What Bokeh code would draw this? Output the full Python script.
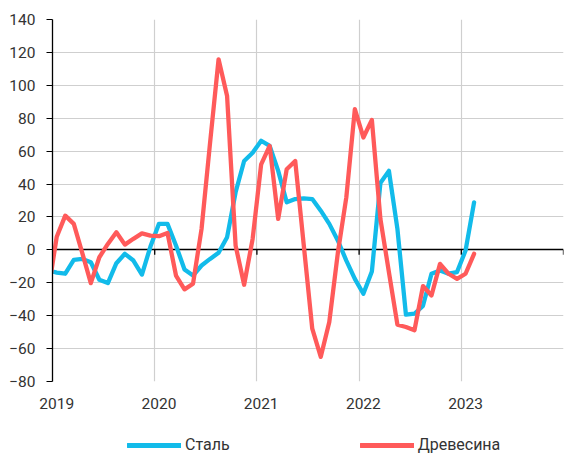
import numpy as np
from bokeh.plotting import figure
from bokeh.layouts import column
from bokeh.models import Range1d, FixedTicker, Legend, LegendItem, ColumnDataSource
from bokeh.embed import file_html
from bokeh.resources import INLINE

# Monthly series, first value = Dec 2018 (clipped at the axis start), last = Feb 2023
first_year, first_month = 2018, 12
steel = [-12.5, -13.8, -14.5, -6.1, -5.5, -7.5, -18.2, -20.2, -8.1, -2.4, -6.5, -15.0, 2.0,
         15.8, 15.8, 2.6, -11.9, -15.6, -9.5, -5.5, -1.8, 7.7, 35.0, 54.0, 59.0,
         66.3, 63.2, 48.0, 28.9, 30.9, 31.3, 30.9, 23.8, 15.8, 5.7, -6.5, -17.6,
         -26.7, -13.1, 40.6, 48.0, 12.7, -39.4, -38.8, -34.0, -14.5, -12.5, -14.5, -13.5,
         -0.4, 28.9]
wood = [-25.0, 8.0, 20.8, 15.8, -2.0, -20.2, -4.5, 3.6, 10.7, 3.2, 6.7, 10.0, 8.7,
        8.3, 10.3, -15.6, -24.0, -20.6, 12.7, 65.0, 115.8, 93.5, 2.6, -21.2, 6.7,
        52.0, 63.2, 18.8, 49.0, 54.0, 3.0, -47.9, -65.0, -43.8, -2.0, 32.0, 85.5,
        68.3, 79.0, 18.8, -13.5, -45.5, -46.9, -48.9, -22.0, -27.7, -8.5, -14.5, -17.6,
        -14.5, -2.4]
series_names = ["Сталь", "Древесина"]
series_colors = ["#12BBEA", "#FF5A5A"]
year_ticks = [2019, 2020, 2021, 2022, 2023, 2024]
year_labels = ["2019", "2020", "2021", "2022", "2023"]
y_ticks = list(range(-80, 141, 20))

# months placed at mid-month on a fractional-year axis
n = len(steel)
x = first_year + (first_month - 0.5) / 12 + np.arange(n) / 12.0
src = ColumnDataSource(dict(x=x, steel=steel, wood=wood))

FONT = "Roboto"
TXT = "#333333"
GRID = "#cfcfcf"
LW = 4.3

p = figure(width=565, height=414, output_backend="svg", toolbar_location=None,
           x_range=Range1d(2019, 2024), y_range=Range1d(-80, 140),
           min_border_left=52, min_border_top=19, min_border_right=2, min_border_bottom=33)
p.outline_line_color = None
p.background_fill_color = "white"
p.border_fill_color = "white"

# grids
p.xgrid.ticker = FixedTicker(ticks=year_ticks)
p.xgrid.grid_line_color = GRID
p.xgrid.grid_line_width = 1.2
p.ygrid.grid_line_color = GRID
p.ygrid.grid_line_width = 1.2

# y axis
p.yaxis.ticker = FixedTicker(ticks=y_ticks)
p.yaxis.axis_line_color = "black"
p.yaxis.axis_line_width = 1.3
p.yaxis.major_tick_line_color = "black"
p.yaxis.major_tick_out = 6
p.yaxis.major_tick_in = 0
p.yaxis.minor_tick_line_color = None
p.yaxis.major_label_standoff = 11
p.yaxis.major_label_text_font = FONT
p.yaxis.major_label_text_font_size = "15.5px"
p.yaxis.major_label_text_color = TXT

# x axis: labels at mid-January of each year
label_pos = [int(l) + 0.5 / 12 for l in year_labels]
p.xaxis.ticker = FixedTicker(ticks=label_pos)
p.xaxis.major_label_overrides = {pos: lab for pos, lab in zip(label_pos, year_labels)}
p.xaxis.axis_line_color = None
p.xaxis.major_tick_line_color = None
p.xaxis.minor_tick_line_color = None
p.xaxis.major_tick_out = 0
p.xaxis.major_label_standoff = 16
p.xaxis.major_label_text_font = FONT
p.xaxis.major_label_text_font_size = "15.5px"
p.xaxis.major_label_text_color = TXT

# zero line with year ticks
p.hspan(y=[0], line_color="black", line_width=1.3)
p.segment(x0=year_ticks[1:], y0=[0] * 5, x1=year_ticks[1:], y1=[-3] * 5,
          line_color="black", line_width=1.3)

r1 = p.line("x", "steel", source=src, line_color=series_colors[0], line_width=LW,
            line_join="round", line_cap="round")
r2 = p.line("x", "wood", source=src, line_color=series_colors[1], line_width=LW,
            line_join="round", line_cap="round")

# legend strip below the chart: same series, drawn outside its (empty) view range,
# so only the legend entries show
lg = figure(width=565, height=40, output_backend="svg", toolbar_location=None,
            x_range=Range1d(0, 1), y_range=Range1d(0, 1), min_border=0)
lg.axis.visible = False
lg.grid.visible = False
lg.outline_line_color = None
k1 = lg.line("x", "steel", source=src, line_color=series_colors[0], line_width=LW + 0.5,
             line_cap="round")
k2 = lg.line("x", "wood", source=src, line_color=series_colors[1], line_width=LW + 0.5,
             line_cap="round")
legend = Legend(items=[LegendItem(label=series_names[0], renderers=[k1]),
                       LegendItem(label=series_names[1], renderers=[k2])],
                orientation="horizontal", location=(75, 0),
                spacing=130, glyph_width=54, glyph_height=12, label_height=12,
                label_standoff=4, padding=0, margin=0,
                border_line_color=None, background_fill_alpha=0,
                label_text_font=FONT, label_text_font_size="16px", label_text_color=TXT)
lg.add_layout(legend, "center")

layout = column(p, lg, spacing=0)
open("out.html", "w").write(file_html(layout, INLINE))
